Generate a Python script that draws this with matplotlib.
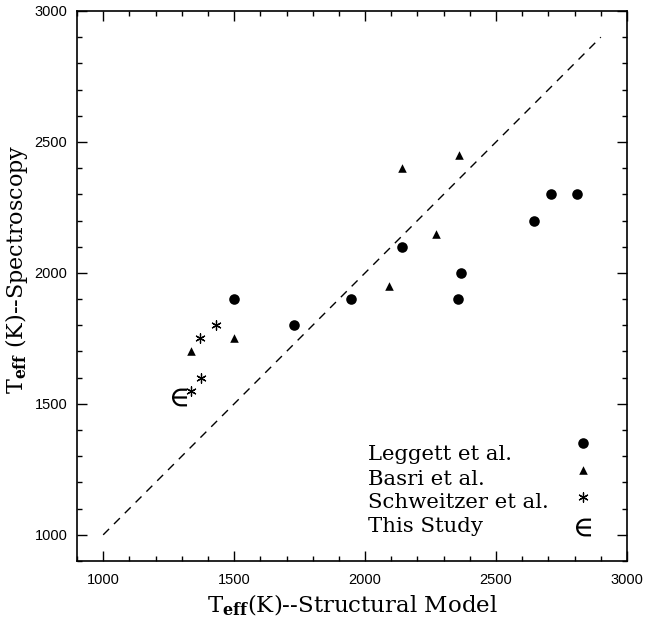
import numpy as np
import matplotlib.pyplot as plt
import matplotlib
from matplotlib.ticker import MultipleLocator

matplotlib.rcParams['mathtext.fontset'] = 'dejavuserif'

# --- Data ---
leggett_x = [1500, 1730, 1945, 2140, 2365, 2355, 2645, 2710, 2810]
leggett_y = [1900, 1800, 1900, 2100, 2000, 1900, 2200, 2300, 2300]

basri_x = [1335, 1500, 2090, 2140, 2270, 2360]
basri_y = [1700, 1750, 1950, 2400, 2150, 2450]

schweitzer_x = [1430, 1370, 1375, 1335]
schweitzer_y = [1800, 1750, 1600, 1550]

study_x = [1290]
study_y = [1527]

one_to_one = [1000, 2900]

legend_labels = ['Leggett et al.', 'Basri et al.', 'Schweitzer et al.', 'This Study']

SERIF = 'DejaVu Serif'
SANS = 'Liberation Sans'
EPS = r'$\in$'

fig = plt.figure(figsize=(6.46, 6.23), dpi=100)
ax = fig.add_axes([77 / 646, 62 / 623, 550 / 646, 550 / 623])

ax.plot(one_to_one, one_to_one, color='black', lw=1.0, ls=(0, (6, 5)))

ax.scatter(leggett_x, leggett_y, marker='o', s=58, color='black', lw=0)
ax.scatter(basri_x, basri_y, marker='^', s=38, color='black', lw=0)
ax.scatter(schweitzer_x, schweitzer_y, marker=(6, 2, 0), s=45, color='black', lw=0.9)
ax.scatter(study_x, study_y, marker=EPS, s=165, color='black', lw=0)

# legend drawn by hand, like the original
leg_markers = [dict(marker='o', s=58, lw=0),
               dict(marker='^', s=38, lw=0),
               dict(marker=(6, 2, 0), s=45, lw=0.9),
               dict(marker=EPS, s=165, lw=0)]
text_y = [1305, 1213, 1125, 1030]
mark_y = [1350, 1247, 1144, 1030]
for lab, ty, my, mk in zip(legend_labels, text_y, mark_y, leg_markers):
    ax.text(2010, ty, lab, family=SERIF, fontsize=15.3, va='center', ha='left')
    ax.scatter([2832], [my], color='black', **mk)

ax.set_xlim(900, 3000)
ax.set_ylim(900, 3000)
ax.xaxis.set_major_locator(MultipleLocator(500))
ax.yaxis.set_major_locator(MultipleLocator(500))
ax.xaxis.set_minor_locator(MultipleLocator(100))
ax.yaxis.set_minor_locator(MultipleLocator(100))
ax.tick_params(which='both', direction='in', top=True, right=True, width=1.0)
ax.tick_params(which='major', length=7)
ax.tick_params(which='minor', length=3.5)
ax.tick_params(axis='x', which='major', pad=9)
ax.tick_params(axis='y', which='major', pad=7)
for lbl in ax.get_xticklabels() + ax.get_yticklabels():
    lbl.set_family(SANS)
    lbl.set_fontsize(10.5)
for sp in ax.spines.values():
    sp.set_linewidth(1.2)

ax.set_xlabel(r'T$_{\mathbf{eff}}$(K)--Structural Model', family=SERIF, fontsize=16.5)
ax.set_ylabel(r'T$_{\mathbf{eff}}$ (K)--Spectroscopy', family=SERIF, fontsize=16)
ax.xaxis.set_label_coords(0.5, -0.058)
ax.yaxis.set_label_coords(-0.086, 0.53)

fig.savefig('out.png', dpi=100)
